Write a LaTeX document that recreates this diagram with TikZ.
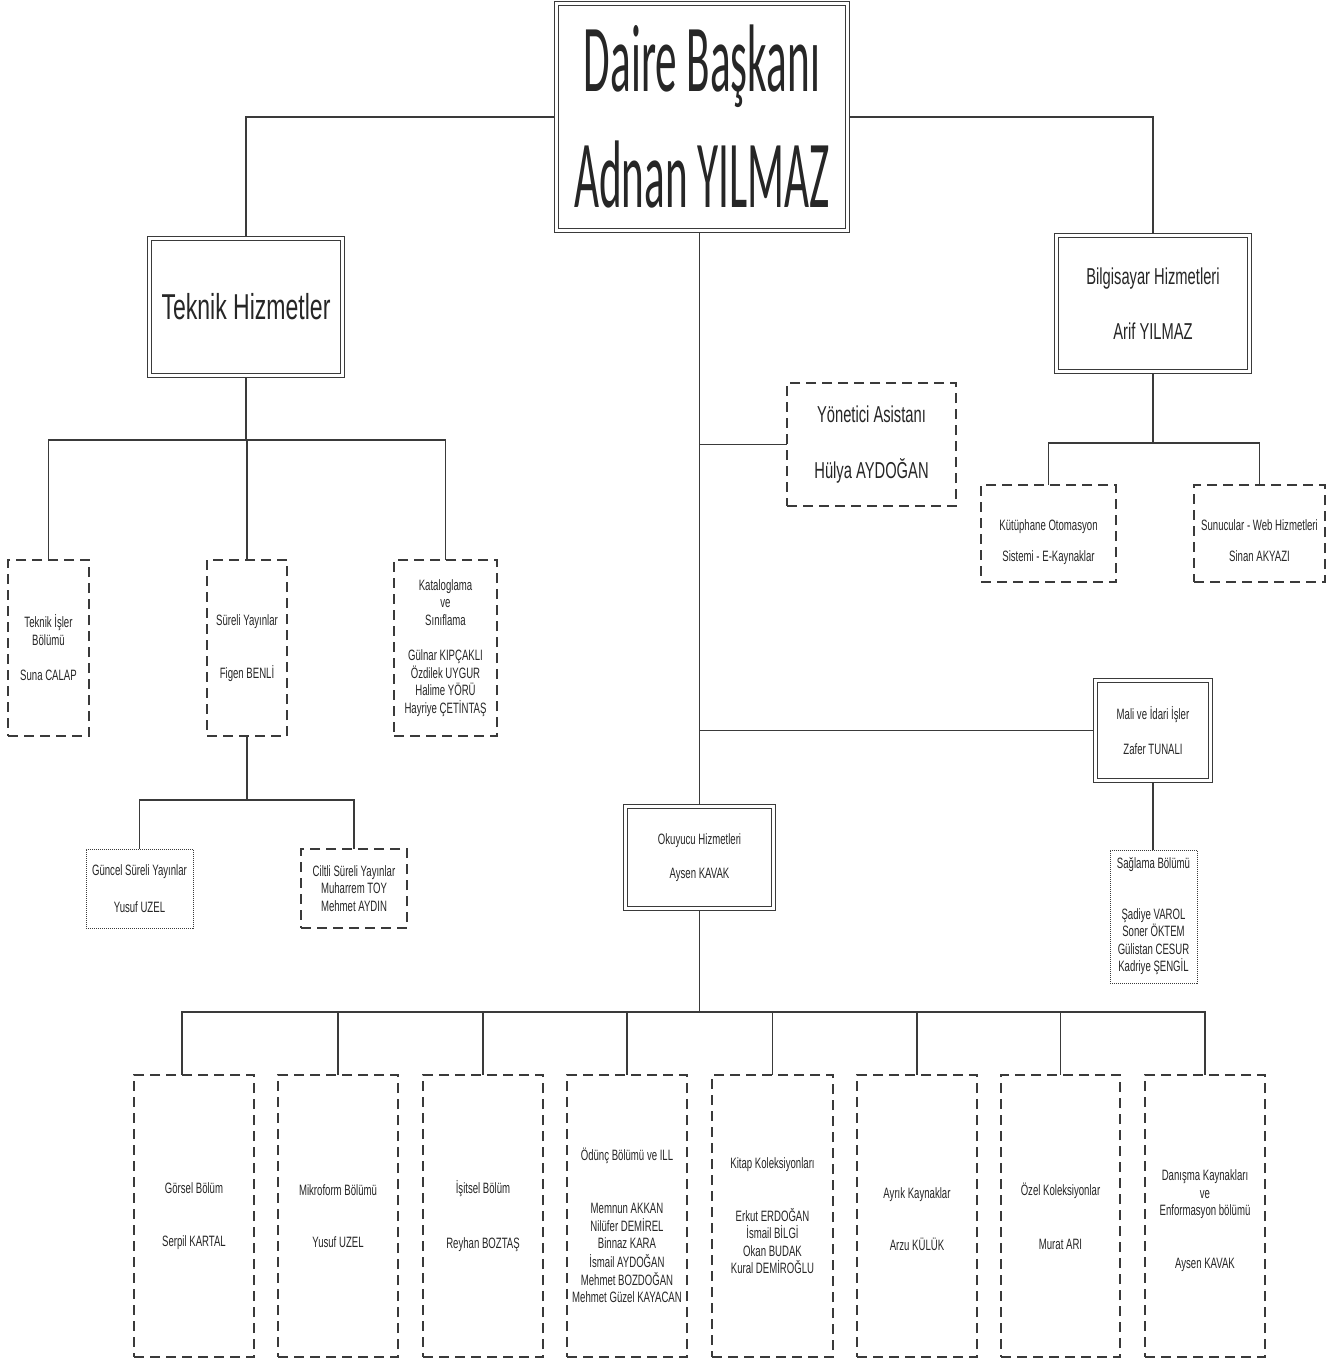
\documentclass[tikz,border=0pt]{standalone}
\usepackage{fontspec}
\setmainfont{Liberation Sans}
\newfontfamily\nf[FakeStretch=0.64]{Liberation Sans}
\newfontfamily\tf[FakeStretch=0.45]{Carlito}
\usetikzlibrary{backgrounds}
\definecolor{ln}{HTML}{3A3A3A}
\definecolor{tx}{HTML}{262626}
\newcommand{\lowered}[2]{\raisebox{#1}[\height][\depth]{\begin{tabular}{@{}c@{}}#2\end{tabular}}}
\begin{document}
\begin{tikzpicture}[x=1pt,y=-1pt,
  every node/.style={inner sep=0pt, outer sep=0pt, align=center, text=tx, rectangle, fill=white},
  sz/.style 2 args={minimum width=#1pt, minimum height=#2pt},
  dbl/.style={draw=ln, double=white, double distance=2.2pt, line width=1.4pt},
  dsh/.style={draw=ln, line width=1.4pt, dash pattern=on 10pt off 6pt},
  dtt/.style={draw=ln, line width=1pt, dash pattern=on 1pt off 1pt},
  conn/.style={draw=ln, line width=1.4pt},
  sm/.style={font=\nf\fontsize{15}{17.5}\selectfont},
  md/.style={font=\nf\fontsize{23}{26}\selectfont},
  lg/.style={font=\nf\fontsize{36}{40}\selectfont},
  ttl/.style={font=\tf\fontsize{96}{116}\selectfont}
]
\useasboundingbox (0,0) rectangle (1339,1360);

% top level
\node[dbl, ttl, sz={291}{227}] (main) at (702,117) {Daire Başkanı\\Adnan YILMAZ};
\node[dbl, lg, sz={193}{137}] (tek) at (246,307) {Teknik Hizmetler};
\node[dbl, md, sz={193}{136}] (bil) at (1153,303.5) {Bilgisayar Hizmetleri\\[29pt]Arif YILMAZ};
\node[dsh, md, sz={169}{123}] (yon) at (871.5,444.5) {Yönetici Asistanı\\[30pt]Hülya AYDOĞAN};

% Bilgisayar children
\node[dsh, sm, sz={135}{97}] (kut) at (1048.5,533.5) {\lowered{-9pt}{Kütüphane Otomasyon\\[14pt]Sistemi - E-Kaynaklar}};
\node[dsh, sm, sz={131}{97}] (sun) at (1259.5,533.5) {\lowered{-9pt}{Sunucular - Web Hizmetleri\\[14pt]Sinan AKYAZI}};

% Teknik children
\node[dsh, sm, sz={81}{176}] (tis) at (48.5,648) {Teknik İşler\\Bölümü\\[18pt]Suna CALAP};
\node[dsh, sm, sz={80}{176}] (sur) at (247,648) {Süreli Yayınlar\\[36pt]Figen BENLİ};
\node[dsh, sm, sz={103}{176}] (kat) at (445.5,648) {Kataloglama\\ve\\Sınıflama\\[18pt]Gülnar KIPÇAKLI\\Özdilek UYGUR\\Halime YÖRÜ\\Hayriye ÇETİNTAŞ};

% Süreli children
\node[dtt, sm, sz={107}{79}] (gun) at (139.5,888.5) {Güncel Süreli Yayınlar\\[19pt]Yusuf UZEL};
\node[dsh, sm, sz={106}{79}] (cil) at (354,888.5) {Ciltli Süreli Yayınlar\\Muharrem TOY\\Mehmet AYDIN};

% Mali
\node[dbl, sm, sz={115}{100}] (mali) at (1153,730.5) {Mali ve İdari İşler\\[18pt]Zafer TUNALI};
\node[dtt, sm, sz={87}{133}] (sag) at (1153.5,916.5) {Sağlama Bölümü\\[33pt]Şadiye VAROL\\Soner ÖKTEM\\Gülistan CESUR\\Kadriye ŞENGİL};

% Okuyucu
\node[dbl, sm, sz={148}{102}] (oku) at (699.5,857.5) {Okuyucu Hizmetleri\\[17pt]Aysen KAVAK};

% bottom row
\node[dsh, sm, sz={120}{282}] (gor) at (194,1216) {Görsel Bölüm\\[36pt]Serpil KARTAL};
\node[dsh, sm, sz={120}{282}] (mik) at (338,1216) {Mikroform Bölümü\\[35pt]Yusuf UZEL};
\node[dsh, sm, sz={120}{282}] (isi) at (483,1216) {İşitsel Bölüm\\[37pt]Reyhan BOZTAŞ};
\node[dsh, sm, sz={120}{282}] (odu) at (627,1216) {\lowered{-12pt}{Ödünç Bölümü ve ILL\\[35pt]Memnun AKKAN\\Nilüfer DEMİREL\\Binnaz KARA\\İsmail AYDOĞAN\\Mehmet BOZDOĞAN\\Mehmet Güzel KAYACAN}};
\node[dsh, sm, sz={121}{282}] (kit) at (772.5,1216) {Kitap Koleksiyonları\\[35pt]Erkut ERDOĞAN\\İsmail BİLGİ\\Okan BUDAK\\Kural DEMİROĞLU};
\node[dsh, sm, sz={120}{282}] (ayr) at (917,1216) {\lowered{-5pt}{Ayrık Kaynaklar\\[35pt]Arzu KÜLÜK}};
\node[dsh, sm, sz={119}{282}] (oze) at (1060.5,1216) {\lowered{-3pt}{Özel Koleksiyonlar\\[36pt]Murat ARI}};
\node[dsh, sm, sz={120}{282}] (dan) at (1205,1216) {\lowered{-5pt}{Danışma Kaynakları\\ve\\Enformasyon bölümü\\[35pt]Aysen KAVAK}};

\begin{scope}[on background layer]
  \fill[white] (0,0) rectangle (1339,1360);
  \draw[conn] (main.west) -| (tek.north);
  \draw[conn] (main.east) -| (bil.north);
  \draw[conn] (oku.north) -- (oku.north |- main.south);
  \draw[conn] (yon.west) -- (yon.west -| oku.north);
  \draw[conn] (mali.west) -- (mali.west -| oku.north);
  % Teknik
  \coordinate (hT) at (248,440);
  \draw[conn] (tek.south) -- (tek.south |- hT);
  \draw[conn] (tis.north) |- (kat.north |- hT) -- (kat.north);
  \draw[conn] (sur.north) -- (sur.north |- hT);
  % Süreli
  \coordinate (hS) at (247,800);
  \draw[conn] (sur.south) -- (sur.south |- hS);
  \draw[conn] (gun.north) |- (cil.north |- hS) -- (cil.north);
  % Bilgisayar
  \coordinate (hB) at (1153,443);
  \draw[conn] (bil.south) -- (bil.south |- hB);
  \draw[conn] (kut.north) |- (sun.north |- hB) -- (sun.north);
  % Mali
  \draw[conn] (mali.south) -- (mali.south |- sag.north);
  % Okuyucu
  \coordinate (hO) at (700,1012);
  \draw[conn] (oku.south) -- (oku.south |- hO);
  \coordinate (gcon) at ([xshift=-12pt]gor.north);
  \draw[conn] (gcon) |- (dan.north |- hO) -- (dan.north);
  \foreach \n in {mik,isi,odu,kit,ayr,oze}{
    \draw[conn] (\n.north) -- (\n.north |- hO);
  }
\end{scope}
\end{tikzpicture}
\end{document}
